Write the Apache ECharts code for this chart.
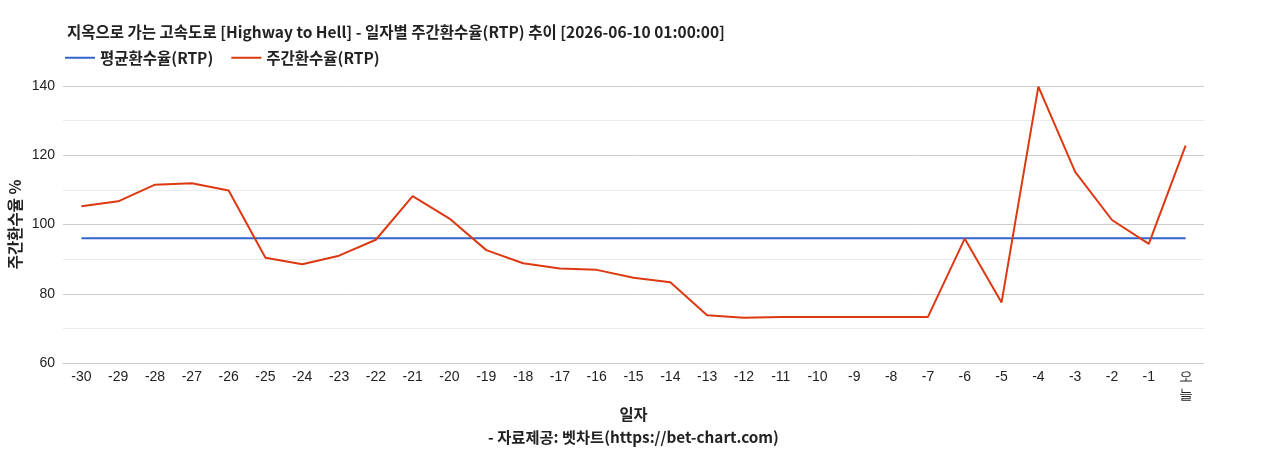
<!DOCTYPE html>
<html>
<head>
<meta charset="utf-8">
<script src="https://cdn.jsdelivr.net/npm/echarts@6/dist/echarts.min.js"></script>
<style>
  html, body { margin: 0; padding: 0; background: #fff; }
  #chart { width: 1268px; height: 450px; }
</style>
</head>
<body>
<div id="chart"></div>
<script>
// 일자 (x축)
const days = ['-30', '-29', '-28', '-27', '-26', '-25', '-24', '-23', '-22', '-21',
  '-20', '-19', '-18', '-17', '-16', '-15', '-14', '-13', '-12', '-11',
  '-10', '-9', '-8', '-7', '-6', '-5', '-4', '-3', '-2', '-1', '오늘']

// 주간환수율(RTP)
const weeklyRtp = [105.3, 106.7, 111.5, 111.9, 109.8, 90.4, 88.5, 91.0, 95.6, 108.2,
  101.7, 92.6, 88.8, 87.3, 86.9, 84.6, 83.3, 73.8, 73.1, 73.3,
  73.3, 73.3, 73.3, 73.3, 95.9, 77.5, 139.8, 115.2, 101.3, 94.4, 122.8]

// 평균환수율(RTP)
const avgRtp = days.map(() => 96.0)

const yTicks = { min: 60, max: 140, interval: 20 }

const font = '"Noto Sans CJK KR", "Noto Sans", sans-serif'
const chart = echarts.init(document.getElementById('chart'))

chart.setOption({
  animation: false,
  textStyle: { fontFamily: font },
  title: {
    text: '지옥으로 가는 고속도로 [Highway to Hell] - 일자별 주간환수율(RTP) 추이 [2026-06-10 01:00:00]',
    left: 62,
    top: 19,
    textStyle: { fontSize: 15.5, fontWeight: 'bold', color: '#222', fontFamily: font }
  },
  legend: {
    left: 60,
    top: 45,
    icon: 'rect',
    itemWidth: 30,
    itemHeight: 2,
    itemGap: 18,
    textStyle: { fontSize: 15.5, fontWeight: 'bold', color: '#222', fontFamily: font },
    data: ['평균환수율(RTP)', '주간환수율(RTP)']
  },
  grid: {
    left: 63,
    right: 64,
    top: 86,
    bottom: 87,
    outerBoundsMode: 'none',
    containLabel: false
  },
  xAxis: {
    type: 'category',
    data: days,
    name: '일자\n- 자료제공: 벳차트(https://bet-chart.com)',
    nameLocation: 'middle',
    nameGap: 40,
    nameMoveOverlap: false,
    nameTextStyle: { fontSize: 15.3, fontWeight: 'bold', color: '#222', lineHeight: 23, fontFamily: font },
    axisTick: { show: false },
    axisLine: { lineStyle: { color: '#ccc', width: 1 } },
    axisLabel: {
      fontSize: 14,
      color: '#222',
      margin: 5,
      fontFamily: 'Arial, "Liberation Sans", sans-serif',
      interval: 0,
      lineHeight: 18,
      formatter: v => v === '오늘' ? '오\n늘' : v
    }
  },
  yAxis: {
    type: 'value',
    min: yTicks.min,
    max: yTicks.max,
    interval: yTicks.interval,
    name: '주간환수율 %',
    nameLocation: 'middle',
    nameGap: 40,
    nameMoveOverlap: false,
    nameRotate: 90,
    nameTextStyle: { fontSize: 15.5, fontWeight: 'bold', color: '#222', fontFamily: font },
    axisLine: { show: false },
    axisTick: { show: false },
    axisLabel: {
      fontSize: 14,
      color: '#222',
      margin: 8,
      fontFamily: 'Arial, "Liberation Sans", sans-serif'
    },
    splitLine: { lineStyle: { color: '#ccc', width: 1 } },
    minorTick: { show: false, splitNumber: 2 },
    minorSplitLine: { show: true, lineStyle: { color: '#ebebeb', width: 1 } }
  },
  series: [
    {
      name: '평균환수율(RTP)',
      type: 'line',
      data: avgRtp,
      symbol: 'none',
      lineStyle: { color: '#3366cc', width: 2 },
      itemStyle: { color: '#3366cc' }
    },
    {
      name: '주간환수율(RTP)',
      type: 'line',
      data: weeklyRtp,
      symbol: 'none',
      lineStyle: { color: '#dc3912', width: 2 },
      itemStyle: { color: '#dc3912' }
    }
  ]
})
</script>
</body>
</html>
